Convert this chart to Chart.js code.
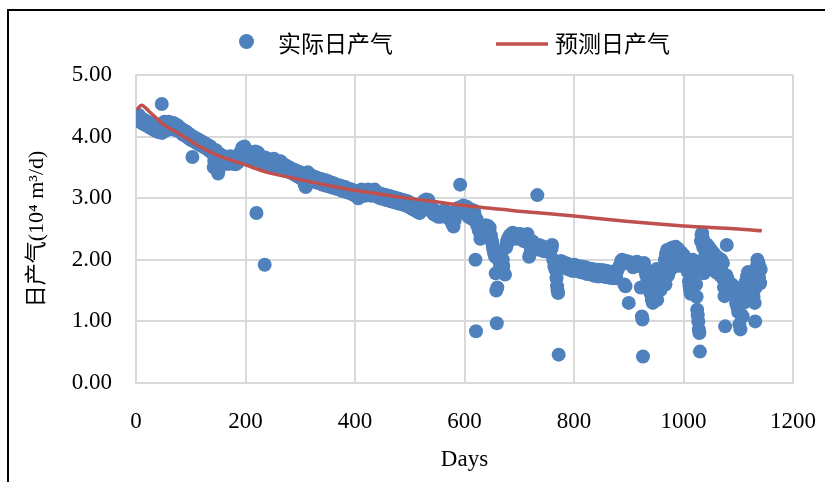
<!DOCTYPE html>
<html><head><meta charset="utf-8">
<script src="https://cdn.jsdelivr.net/npm/chart.js@4.4.1/dist/chart.umd.min.js"></script>
<style>
html,body{margin:0;padding:0;background:#fff;}
#wrap{position:relative;width:825px;height:482px;overflow:hidden;background:#fff;}
#frame{position:absolute;left:7px;top:9px;width:900px;height:600px;border-left:2px solid #000;border-top:2px solid #000;pointer-events:none;}
canvas{position:absolute;left:0;top:0;}
</style></head><body>
<div id="wrap"><canvas id="c" width="825" height="482"></canvas><div id="frame"></div></div>
<script>
const seriesActualLabel = '实际日产气';
const seriesPredLabel = '预测日产气';
const xTitle = 'Days';
const yTitle = '日产气(10⁴ m³/d)';
const xTicks = [0, 200, 400, 600, 800, 1000, 1200];
const yTicks = [0, 1, 2, 3, 4, 5];

const actualPoints = [
[1,4.33],[3,4.28],[5,4.35],[7,4.24],[9,4.30],[11,4.22],[13,4.28],[15,4.20],[17,4.26],[19,4.18],[21,4.24],[23,4.16],[25,4.22],[27,4.14],[29,4.20],[31,4.12],[33,4.18],[35,4.10],[37,4.16],[39,4.08],[41,4.14],[43,4.07],[45,4.20],[47,4.53],[48,4.06],[50,4.15],[52,4.24],[54,4.10],[56,4.22],[58,4.16],[60,4.24],[62,4.12],[64,4.20],[66,4.14],[68,4.22],[70,4.12],[72,4.20],[74,4.10],[76,4.18],[78,4.10],[80,4.15],[82,4.06],[84,4.12],[86,4.03],[88,4.10],[90,4.02],[92,4.08],[94,3.99],[96,4.05],[98,3.96],[100,4.02],[102,3.94],[103,3.67],
[104,4.00],[106,3.92],[108,3.98],[110,3.90],[112,3.96],[114,3.88],[116,3.94],[118,3.86],[120,3.92],[122,3.84],[124,3.90],[126,3.82],[128,3.88],[130,3.80],[132,3.86],[134,3.77],[136,3.84],[138,3.74],[140,3.80],[142,3.50],[143,3.60],[144,3.72],[146,3.78],[148,3.66],[150,3.40],[151,3.46],[152,3.72],[154,3.62],[156,3.70],[158,3.60],[160,3.68],[162,3.58],[164,3.66],[166,3.56],[168,3.64],[170,3.56],[172,3.68],[174,3.58],[176,3.66],[178,3.56],[180,3.64],[182,3.55],[184,3.62],[186,3.58],[188,3.68],[190,3.74],[192,3.66],[194,3.82],[196,3.76],[198,3.84],[200,3.72],[202,3.78],[204,3.66],
[206,3.74],[208,3.64],[210,3.70],[212,3.62],[214,3.72],[216,3.66],[218,3.76],[220,2.76],[221,3.68],[223,3.74],[225,3.60],[227,3.68],[229,3.56],[231,3.64],[233,3.54],[235,1.92],[236,3.66],[238,3.56],[240,3.64],[242,3.54],[244,3.62],[246,3.52],[248,3.62],[250,3.54],[252,3.64],[254,3.52],[256,3.60],[258,3.50],[260,3.58],[262,3.48],[264,3.60],[266,3.50],[268,3.56],[270,3.46],[272,3.54],[274,3.44],[276,3.52],[278,3.44],[280,3.50],[282,3.42],[284,3.48],[286,3.40],[288,3.46],[290,3.38],[292,3.45],[294,3.36],[296,3.43],[298,3.34],[300,3.42],[302,3.32],[304,3.40],[306,3.30],[308,3.22],[310,3.18],[312,3.36],[314,3.42],[316,3.32],[318,3.38],[320,3.30],
[322,3.36],[324,3.28],[326,3.35],[328,3.26],[330,3.33],[332,3.25],[334,3.32],[336,3.24],[338,3.31],[340,3.22],[342,3.30],[344,3.22],[346,3.29],[348,3.20],[350,3.28],[352,3.20],[354,3.26],[356,3.18],[358,3.25],[360,3.17],[362,3.24],[364,3.16],[366,3.22],[368,3.15],[370,3.21],[372,3.14],[374,3.20],[376,3.12],[378,3.19],[380,3.12],[382,3.18],[384,3.10],[386,3.16],[388,3.09],[390,3.15],[392,3.08],[394,3.14],[396,3.06],[398,3.12],[400,3.05],[402,3.10],[404,3.02],[406,3.00],[408,3.12],[410,3.06],[412,3.14],[414,3.06],[416,3.12],[418,3.04],[420,3.10],[422,3.05],[424,3.14],[426,3.06],[428,3.12],[430,3.04],[432,3.12],[434,3.05],[436,3.14],[438,3.04],[440,3.10],[442,3.02],[444,3.08],[446,3.00],[448,3.07],[450,3.00],[452,3.06],[454,2.98],[456,3.05],[458,2.97],[460,3.04],[462,2.96],[464,3.03],[466,2.95],[468,3.02],[470,2.94],[472,3.01],[474,2.93],[476,3.00],[478,2.92],[480,2.99],[482,2.91],[484,2.98],[486,2.90],[488,2.97],[490,2.89],[492,2.96],[494,2.88],[496,2.95],[498,2.86],[500,2.93],[502,2.84],[504,2.91],[506,2.82],[508,2.89],[510,2.80],[512,2.86],[514,2.78],[516,2.84],[518,2.76],[520,2.82],[522,2.88],[524,2.92],[526,2.96],[528,2.90],[530,2.98],[532,2.92],[534,2.97],[536,2.88],[538,2.84],[540,2.78],[542,2.82],[544,2.74],[546,2.80],[548,2.72],[550,2.78],[552,2.70],[554,2.77],[556,2.70],[558,2.78],[560,2.72],[562,2.80],[564,2.72],[566,2.79],[568,2.70],[570,2.76],[572,2.66],[574,2.72],[576,2.62],[578,2.58],[580,2.54],[582,2.64],[584,2.72],[586,2.80],[588,2.84],[590,2.78],[592,3.22],[594,2.86],[596,2.80],[598,2.88],
[600,2.84],[601,2.76],[603,2.80],[604,2.86],[606,2.76],[607,2.70],[608,2.72],[610,2.78],[611,2.82],[613,2.74],[614,2.66],[616,2.70],[617,2.80],[618,2.76],[620,2.00],[621,0.84],[622,2.66],[623,2.56],[625,2.58],[626,2.48],[628,2.45],[629,2.34],[630,2.38],[632,2.42],[633,2.48],[635,2.50],[636,2.42],[638,2.48],[639,2.56],[640,2.52],[642,2.46],[643,2.55],[645,2.48],[646,2.52],[648,2.40],[649,2.34],[650,2.30],[651,2.26],[652,2.20],[653,2.16],[654,2.12],[655,2.08],[656,2.05],[657,1.78],[658,1.50],[659,0.97],[660,1.55],[662,2.00],[664,2.10],[665,1.90],[666,2.02],[667,2.08],[668,1.96],[670,2.00],[671,1.90],[672,1.78],[674,1.76],[676,2.20],[677,2.26],[678,2.30],[680,2.35],[681,2.30],[683,2.40],[684,2.36],[686,2.42],[687,2.38],[688,2.44],[690,2.40],[692,2.42],[693,2.36],[695,2.34],[696,2.38],[698,2.42],[699,2.36],[700,2.40],[702,2.42],[703,2.36],[705,2.38],[706,2.32],[708,2.35],[709,2.30],[710,2.38],[712,2.36],[713,2.40],[715,2.42],[716,2.36],[718,2.05],[720,2.10],[721,2.20],[722,2.30],[724,2.30],[725,2.26],[727,2.18],[728,2.22],[730,2.25],[731,2.20],[733,3.05],[735,2.20],[736,2.24],[738,2.22],[739,2.16],[740,2.18],[742,2.22],[743,2.20],[745,2.14],[746,2.17],[748,2.19],[749,2.20],[750,2.15],[752,2.13],[753,2.18],[755,2.20],[756,2.14],[758,2.20],[759,2.18],[760,2.24],[762,2.00],[764,1.90],[766,1.84],[768,1.70],[769,1.57],[770,1.50],[771,1.46],[772,0.46],[774,1.95],[776,1.98],[778,1.94],[780,1.92],
[781,1.96],[783,1.90],[784,1.86],[786,1.93],[787,1.94],[788,1.88],[790,1.91],[791,1.84],[793,1.87],[794,1.92],[796,1.90],[797,1.82],[798,1.86],[800,1.89],[801,1.92],[803,1.85],[804,1.82],[806,1.88],[807,1.90],[808,1.84],[810,1.87],[811,1.80],[813,1.83],[814,1.89],[816,1.86],[817,1.79],[818,1.82],[820,1.85],[821,1.88],[823,1.80],[824,1.77],[826,1.84],[827,1.86],[828,1.79],[830,1.82],[831,1.76],[833,1.78],[834,1.85],[836,1.81],[837,1.74],[838,1.77],[840,1.80],[841,1.84],[843,1.76],[844,1.73],[846,1.79],[847,1.84],[848,1.82],[850,1.78],[851,1.74],[853,1.80],[854,1.83],[856,1.76],[857,1.72],[858,1.79],[860,1.75],[861,1.82],[863,1.78],[864,1.71],[866,1.74],[867,1.80],[868,1.77],[870,1.73],[871,1.70],[873,1.76],[874,1.78],[876,1.72],[877,1.70],[878,1.80],[880,1.85],[883,1.90],[886,1.98],[888,2.00],[890,1.95],[892,1.60],[894,1.57],[896,1.98],[898,1.95],[900,1.30],
[903,1.96],[906,1.92],[908,1.88],[910,1.95],[913,1.92],[915,1.97],[918,1.93],[920,1.90],[922,1.55],[924,1.08],[925,1.03],[926,0.43],[928,1.95],[930,1.85],[931,1.80],[932,1.75],[934,1.65],[935,1.70],[936,1.55],[938,1.50],[940,1.45],[941,1.60],[942,1.35],[944,1.30],[945,1.75],[946,1.40],[948,1.50],[949,1.65],[950,1.55],[951,1.85],[952,1.35],[954,1.60],[955,1.80],[956,1.70],[958,1.51],[960,1.75],[962,1.65],[963,1.85],[964,1.73],[965,1.80],[966,2.00],[967,1.60],[968,2.10],[969,1.90],[970,2.16],[972,1.75],[973,2.12],[975,1.95],[976,2.18],[977,1.85],[978,2.14],[979,2.00],[980,2.20],[982,1.95],[983,2.18],[985,2.05],[986,2.21],[987,1.90],[988,2.15],[989,2.00],[990,2.18],[992,1.95],[993,2.10],[995,2.00],[996,2.12],[997,1.90],[998,2.05],[999,1.95],[1000,2.08],
[1002,2.05],[1004,2.00],[1006,1.95],[1008,1.80],[1010,1.65],[1011,1.57],[1012,1.50],[1013,1.45],[1015,1.95],[1017,2.00],[1019,1.90],[1021,1.80],[1023,1.60],[1024,1.40],[1025,1.19],[1026,1.10],[1027,1.00],[1028,0.87],[1029,0.81],[1030,0.51],[1032,2.30],[1033,2.40],[1034,2.43],[1035,2.35],[1036,2.20],[1037,1.78],[1038,1.85],[1039,2.05],[1040,2.20],[1041,1.95],[1042,2.15],[1043,2.25],[1044,2.10],[1045,1.95],[1046,2.12],[1047,2.20],[1048,2.08],[1049,1.90],[1050,2.11],[1051,2.15],[1052,2.05],[1053,1.85],[1055,2.05],[1056,2.10],[1058,2.00],[1059,1.80],[1060,1.98],[1061,2.05],[1062,1.95],[1063,1.78],[1064,1.90],[1065,2.02],[1066,1.92],[1067,1.75],[1068,1.85],[1069,2.00],[1070,1.80],[1071,1.72],[1072,1.95],[1073,1.68],[1074,1.55],[1075,1.41],[1076,0.92],[1078,1.75],[1079,2.24],[1080,1.70],[1082,1.65],[1084,1.62],[1086,1.55],[1088,1.60],[1090,1.50],[1092,1.57],[1094,1.40],[1096,1.30],[1098,1.24],[1100,1.15],[1102,0.95],[1104,0.87],[1106,1.10],[1108,1.08],[1110,1.30],[1112,1.50],[1114,1.65],[1116,1.73],[1118,1.80],[1120,1.78],[1122,1.70],[1124,1.60],[1126,1.50],[1128,1.40],[1130,1.30],[1131,1.00],[1132,1.55],[1134,1.90],[1135,2.00],[1137,1.95],[1138,1.70],[1139,1.88],[1140,1.62],[1141,1.84]
];

// predicted daily gas curve
const predDays = [2, 10, 25, 50, 80, 100, 118, 150, 180, 200, 240, 264, 300, 360, 420, 480, 540, 600, 700, 800, 900, 1000, 1100, 1143];
const predGas  = [4.44, 4.51, 4.40, 4.20, 4.04, 3.93, 3.83, 3.69, 3.60, 3.54, 3.42, 3.37, 3.30, 3.19, 3.10, 3.02, 2.95, 2.88, 2.79, 2.71, 2.62, 2.55, 2.50, 2.47];

const BLUE = '#4F81BD', RED = '#C0504D', GRID = '#D9D9D9';
const serif = '"Liberation Serif", "Times New Roman", "Noto Sans CJK SC", serif';
const cjk = '"Noto Sans CJK SC", "Liberation Serif", sans-serif';

const legendPlugin = {
  id: 'customLegend',
  afterDraw(chart) {
    const ctx = chart.ctx;
    const ds = chart.data.datasets;
    ctx.save();
    ctx.font = '23px ' + cjk;
    ctx.textBaseline = 'middle';
    ctx.textAlign = 'left';
    ctx.beginPath();
    ctx.arc(246.5, 41.5, 7.5, 0, Math.PI * 2);
    ctx.fillStyle = BLUE;
    ctx.fill();
    ctx.fillStyle = '#000';
    ctx.fillText(ds[1].label, 278, 43);
    ctx.beginPath();
    ctx.moveTo(496, 44);
    ctx.lineTo(548, 44);
    ctx.strokeStyle = RED;
    ctx.lineWidth = 3.5;
    ctx.stroke();
    ctx.fillText(ds[0].label, 555, 43);
    ctx.restore();
  }
};

new Chart(document.getElementById('c'), {
  data: {
    datasets: [
      {
        type: 'line', label: seriesPredLabel, order: 0,
        data: predDays.map((d, i) => ({x: d, y: predGas[i]})),
        borderColor: RED, borderWidth: 3.5, pointRadius: 0, fill: false,
        cubicInterpolationMode: 'monotone'
      },
      {
        type: 'scatter', label: seriesActualLabel, order: 1,
        data: actualPoints.map(p => ({x: p[0], y: p[1]})),
        backgroundColor: BLUE, borderWidth: 0, pointRadius: 7, pointHoverRadius: 7
      }
    ]
  },
  options: {
    responsive: false, animation: false, devicePixelRatio: 1,
    layout: {padding: {left: 0, right: 32, top: 75, bottom: 0}},
    plugins: {legend: {display: false}, tooltip: {enabled: false}},
    scales: {
      x: {
        type: 'linear', min: 0, max: 1200,
        afterBuildTicks: s => { s.ticks = xTicks.map(v => ({value: v})); },
        afterFit: s => { s.height = 99; s.paddingLeft = 0; s.paddingRight = 0; },
        ticks: {font: {family: serif, size: 23}, color: '#000', padding: 25, callback: v => String(v)},
        grid: {color: GRID, lineWidth: 2, drawTicks: false},
        border: {color: GRID, width: 2},
        title: {display: true, text: xTitle, font: {family: serif, size: 23}, color: '#000', padding: {top: 0, bottom: 8}}
      },
      y: {
        type: 'linear', min: 0, max: 5,
        afterBuildTicks: s => { s.ticks = yTicks.map(v => ({value: v})); },
        afterFit: s => { s.width = 136; s.paddingTop = 0; s.paddingBottom = 0; },
        ticks: {font: {family: serif, size: 23}, color: '#000', padding: 24, callback: v => Number(v).toFixed(2)},
        grid: {color: GRID, lineWidth: 2, drawTicks: false},
        border: {color: GRID, width: 2},
        title: {display: true, text: yTitle, font: {family: serif, size: 22}, color: '#000', padding: {top: 24, bottom: 0}}
      }
    }
  },
  plugins: [legendPlugin]
});
</script>
</body></html>
